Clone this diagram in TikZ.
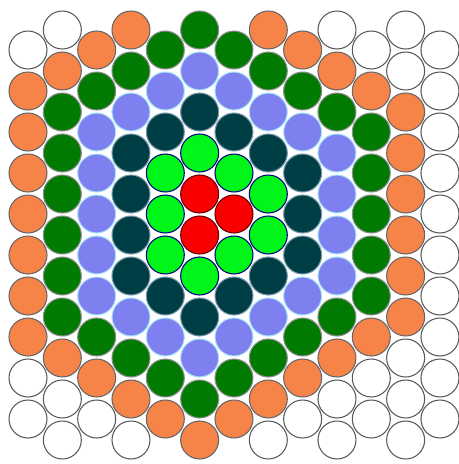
\documentclass[tikz,border=0pt]{standalone}
\usepackage{tikz}

\definecolor{ballorange}{RGB}{246,131,72}
\definecolor{balldkgreen}{RGB}{0,122,0}
\definecolor{ballblue}{RGB}{126,128,240}
\definecolor{baldteal}{RGB}{0,62,70}
\definecolor{balllime}{RGB}{0,246,24}
\definecolor{ballred}{RGB}{250,0,0}

\begin{document}
\begin{tikzpicture}[
  x=0.02cm, y=-0.02cm,
  ball/.style={circle, inner sep=0pt, minimum size=0.76cm, line width=0.6pt},
  cw/.style={draw=black!65, fill=white},
  co/.style={draw=black!60, fill=ballorange},
  cg/.style={draw=black!45, fill=balldkgreen},
  cb/.style={draw=cyan!35, fill=ballblue},
  cd/.style={draw=cyan!45!black!70, fill=baldteal},
  cl/.style={draw=blue!50!black, fill=balllime},
  cr/.style={draw=red!40!black, fill=ballred},
]
  \useasboundingbox (0,0) rectangle (459,464);

  % Columns of the packing: index / top offset / colours from top to bottom
  \foreach \col/\top/\seq in {
      0/50/{w,o,o,o,o,o,o,o,w,w},
      1/30/{w,o,g,g,g,g,g,g,o,w,w},
      2/50/{o,g,b,b,b,b,b,g,o,w},
      3/30/{o,g,b,d,d,d,d,b,g,o,w},
      4/50/{g,b,d,l,l,l,d,b,g,o},
      5/30/{g,b,d,l,r,r,l,d,b,g,o},
      6/50/{g,b,d,l,r,l,d,b,g,o},
      7/30/{o,g,b,d,l,l,d,b,g,o,w},
      8/50/{o,g,b,d,d,d,b,g,o,w},
      9/30/{w,o,g,b,b,b,b,g,o,w,w},
      10/50/{w,o,g,g,g,g,g,o,w,w},
      11/30/{w,w,o,o,o,o,o,o,w,w,w},
      12/50/{w,w,w,w,w,w,w,w,w,w}} {
    \foreach \c [count=\k from 0] in \seq {
      \node[ball, c\c] (c-\col-\k) at ({28+34.33*\col}, {\top+41*\k}) {};
    }
  }
\end{tikzpicture}
\end{document}
